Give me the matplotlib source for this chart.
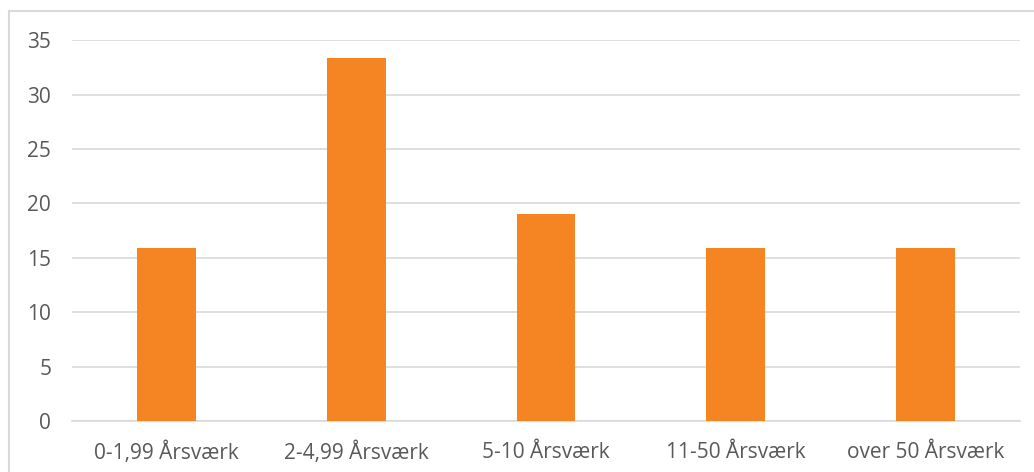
import matplotlib.pyplot as plt
from matplotlib.patches import Rectangle

categories = ['0-1,99 Årsværk', '2-4,99 Årsværk', '5-10 Årsværk', '11-50 Årsværk', 'over 50 Årsværk']
values = [15.87, 33.33, 19.05, 15.87, 15.87]
yticks = [0, 5, 10, 15, 20, 25, 30, 35]

plt.rcParams['font.family'] = ['Open Sans', 'DejaVu Sans']

fig = plt.figure(figsize=(10.34, 4.72), dpi=100)
ax = fig.add_axes([0.0697, 0.108, 0.9168, 0.807])

# outer chart frame (cut off at right and bottom like the screenshot)
fig.patches.append(Rectangle((9 / 1034, -0.1), 1.2, 1 - 11 / 472 + 0.1,
                             transform=fig.transFigure, fill=False,
                             edgecolor='#d9d9d9', linewidth=1.5))

ax.bar(range(len(values)), values, width=0.31, color='#F58522', zorder=3)
ax.set_xlim(-0.5, len(values) - 0.5)
ax.set_ylim(0, 35)
ax.set_yticks(yticks)
ax.set_xticks(range(len(values)))
ax.set_xticklabels(categories)
ax.grid(axis='y', color='#d9d9d9', linewidth=1.2, zorder=0)
for s in ['top', 'right', 'left']:
    ax.spines[s].set_visible(False)
ax.spines['bottom'].set_color('#d9d9d9')
ax.spines['bottom'].set_linewidth(1.2)
ax.tick_params(length=0, labelsize=15, colors='#595959')
ax.tick_params(axis='y', pad=15)
ax.tick_params(axis='x', pad=15)

fig.savefig('out.png', dpi=100)
